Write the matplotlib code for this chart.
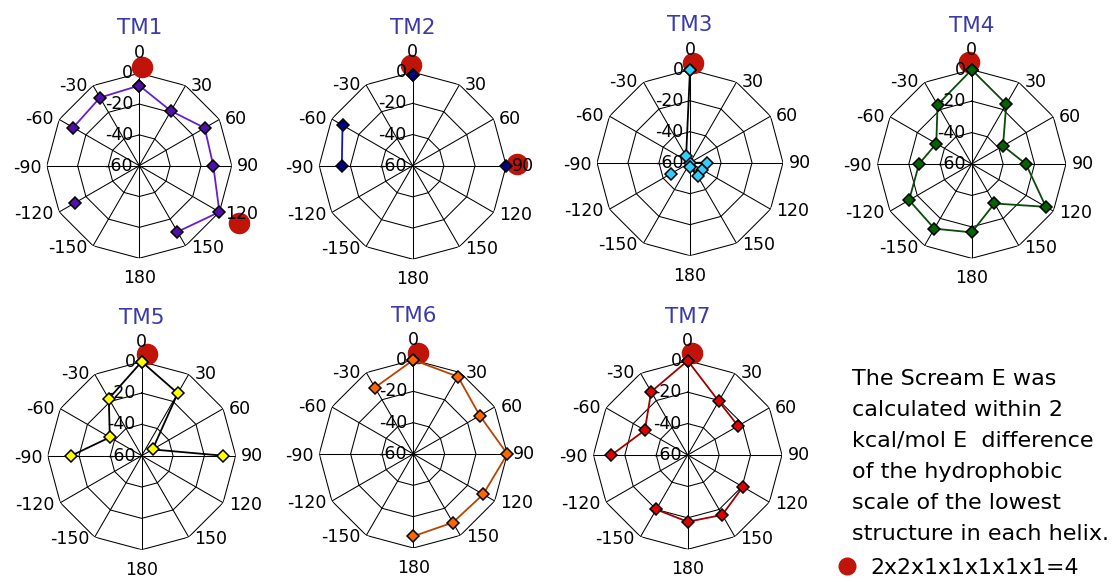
import numpy as np
import matplotlib
matplotlib.use('Agg')
import matplotlib.pyplot as plt
from matplotlib.lines import Line2D

nan = np.nan

# spokes of every radar chart (clockwise from the top)
angles = [0, 30, 60, 90, 120, 150, 180, 210, 240, 270, 300, 330]
angle_labels = ['0', '30', '60', '90', '120', '150', '180',
                '-150', '-120', '-90', '-60', '-30']
r_ticks = [0, -20, -40, -60]

tm_names = ['TM1', 'TM2', 'TM3', 'TM4', 'TM5', 'TM6', 'TM7']

# values on each spoke, nan = no structure
tm1 = [-8, -19, -11, -12, 0, -10.5, nan, nan, -11.5, nan, -10.5, -9]
tm2 = [-2, nan, nan, 0, nan, nan, nan, nan, nan, -14.5, -8, nan]
tm3 = [0, nan, -60, -49, -51, -50, -57, nan, -46, nan, nan, -55]
tm4 = [0, -16, -37, -25.5, -5.5, -31, -16.5, -12.5, -14, -26.5, -34, -16.5]
tm5 = [0, -14, -52, -8, nan, nan, nan, nan, nan, -15, -36.5, -18]
tm6 = [0, -3, -11, 0, -8.5, -9.5, -7.5, nan, nan, nan, nan, -11]
tm7 = [0, -20.5, -23, nan, -19.5, -16, -17.5, -20, nan, -11.5, -28.5, -13.5]

# red circles: selected structures (angle, value)
best_angles = [[1.5, 120], [-1, 89], [1.5], [-1.5], [2.8], [2.4], [2.6]]
best_values = [[4.3, 14.5], [4.7, 6.9], [4.5], [5], [5.3], [4.7], [4.8]]

note_lines = ['The Scream E was',
              'calculated within 2',
              'kcal/mol E  difference',
              'of the hydrophobic',
              'scale of the lowest',
              'structure in each helix.']
legend_label = '2x2x1x1x1x1x1=4'

# styles
fills = ['#4F10A8', '#000080', '#33CCFF', '#006400', '#FFFF00', '#FF6600', '#E00000']
lines = ['#6420D0', '#1515C0', '#000000', '#0B4A0B', '#000000', '#B84400', '#A00000']
red = '#C0140A'
title_color = '#3A3AA8'

W, H = 1114, 582
# centre x, centre y, outer radius (pixels)
layout = [(139.3, 165.7, 92.5), (412.7, 165.7, 93.5), (690, 162.7, 93),
          (971.7, 164, 94.3), (141.7, 455.7, 94), (413.3, 454, 94),
          (687.7, 455, 94.3)]


def radar(ax, values, fill, edge, b_ang, b_val):
    th = np.deg2rad(angles)
    ax.set_theta_zero_location('N')
    ax.set_theta_direction(-1)
    ax.set_ylim(-60, 0)
    ax.axis('off')

    th_closed = np.append(th, th[0])
    for v in r_ticks[:-1]:
        ax.plot(th_closed, [v] * len(th_closed), color='k', lw=0.75, zorder=1)
    for t in th:
        ax.plot([t, t], [-60, 0], color='k', lw=0.75, zorder=1)

    for t, a, lab in zip(th, angles, angle_labels):
        s, c = np.sin(t), np.cos(t)
        if abs(s) < 0.01:
            ha = 'center'
            va = 'bottom' if c > 0 else 'top'
            off = (0, 8 if c > 0 else -8)
        else:
            ha = 'left' if s > 0 else 'right'
            va = 'center'
            off = (4 if s > 0 else -4, -1.5 if c < 0 else 0)
        ax.annotate(lab, xy=(t, 0), xytext=off, textcoords='offset points',
                    ha=ha, va=va, fontsize=12.5, annotation_clip=False, zorder=5)

    for v in r_ticks:
        ax.annotate(str(v), xy=(0, v), xytext=(-4.5, 0), textcoords='offset points',
                    ha='right', va='center', fontsize=12.5, annotation_clip=False,
                    zorder=5)

    ax.plot(np.deg2rad(b_ang), b_val, 'o', color=red, ms=14.5, ls='none',
            clip_on=False, zorder=2.5)

    vals = list(values) + [values[0]]
    ax.plot(th_closed, vals, color=edge, lw=1.3, marker='D', mfc=fill, mec='k',
            mew=1.1, ms=6.2, clip_on=False, zorder=3)


fig = plt.figure(figsize=(W / 100, H / 100), dpi=100)
fig.patch.set_facecolor('white')

series = [tm1, tm2, tm3, tm4, tm5, tm6, tm7]
for i, (name, vals) in enumerate(zip(tm_names, series)):
    cx, cy, R = layout[i]
    ax = fig.add_axes([(cx - R) / W, 1 - (cy + R) / H, 2 * R / W, 2 * R / H],
                      projection='polar')
    radar(ax, vals, fills[i], lines[i], best_angles[i], best_values[i])
    fig.text(cx / W, 1 - (cy - 138) / H, name, ha='center', va='center',
             fontsize=15.5, color=title_color)

for i, line in enumerate(note_lines):
    fig.text(852 / W, 1 - (385 + 31 * i) / H, line, fontsize=16, va='baseline')

handle = Line2D([], [], marker='o', ls='none', color=red, ms=12)
fig.legend(handles=[handle], labels=[legend_label], loc='center left',
           bbox_to_anchor=(836 / W, 1 - 568 / H), frameon=False, fontsize=15.8,
           handlelength=1.0, handletextpad=0.55, borderpad=0, borderaxespad=0)

fig.savefig('out.png', dpi=100)
